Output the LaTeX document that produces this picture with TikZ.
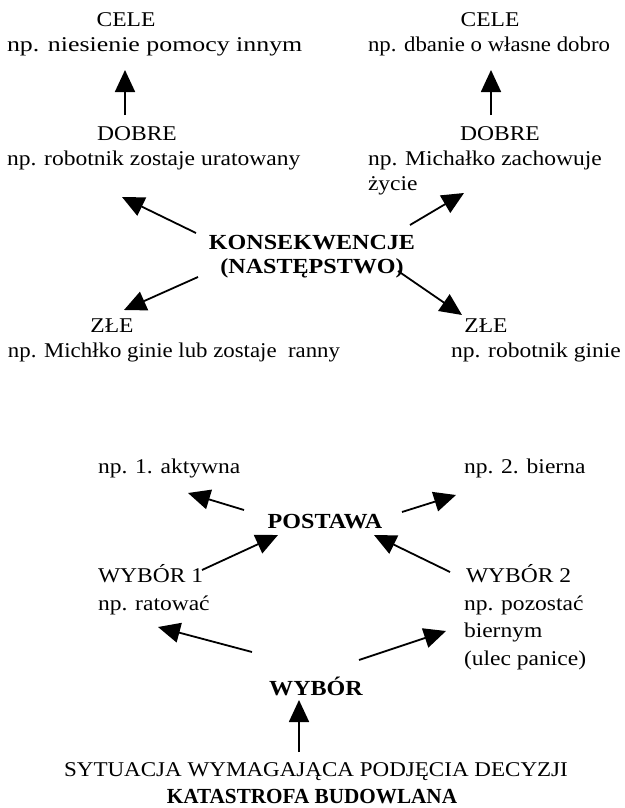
\documentclass[tikz,border=0pt]{standalone}
\usepackage{graphicx}
\usepackage{fontspec}
\setmainfont{Liberation Serif}[FakeStretch=1.12]
\usetikzlibrary{arrows.meta}
\tikzset{
  txt/.style={inner sep=0pt, outer sep=0pt, font=\fontsize{21}{25}\selectfont},
  btxt/.style={txt, font=\fontsize{21.5}{25}\selectfont\bfseries},
  arr/.style={line width=1.8pt, -{Triangle[length=22pt,width=20pt]}}
}
\begin{document}
\begin{tikzpicture}[x=1pt,y=-1pt]
\fill[white] (0,0) rectangle (624,808);
\useasboundingbox (0,0) rectangle (624,808);
% top left
\node[txt, anchor=base] (c1) at (126,27) {CELE};
\node[txt, anchor=base west] (c1t) at (7,52) {\scalebox{1.1}[1]{np. niesienie pomocy innym}};
\node[txt, anchor=base] (d1) at (137,140) {DOBRE};
\node[txt, anchor=base west] (d1t) at (7,165) {np. robotnik zostaje uratowany};
% top right
\node[txt, anchor=base] (c2) at (490,27) {CELE};
\node[txt, anchor=base west] (c2t) at (368,52) {\scalebox{0.97}[1]{np. dbanie o własne dobro}};
\node[txt, anchor=base] (d2) at (500,140) {DOBRE};
\node[txt, anchor=base west] (d2t) at (368,165) {np. Michałko zachowuje};
\node[txt, anchor=base west] (d2t2) at (368,190) {życie};
% consequences
\node[btxt, anchor=base] (kons) at (312,249) {KONSEKWENCJE};
\node[btxt, anchor=base] (nast) at (312,273) {(NASTĘPSTWO)};
\node[txt, anchor=base] (zl1) at (112,332) {ZŁE};
\node[txt, anchor=base west] (zl1t) at (8,357) {\scalebox{0.97}[1]{np. Michłko ginie lub zostaje\ \ ranny}};
\node[txt, anchor=base] (zl2) at (486,332) {ZŁE};
\node[txt, anchor=base west] (zl2t) at (451,357) {np. robotnik ginie};
% attitude
\node[txt, anchor=base west] (akt) at (98,473) {np. 1. aktywna};
\node[txt, anchor=base west] (bier) at (464,473) {np. 2. bierna};
\node[btxt, anchor=base] (post) at (325,528) {POSTAWA};
\node[txt, anchor=base west] (w1) at (98,582) {WYBÓR 1};
\node[txt, anchor=base west] (w1t) at (98,610) {np. ratować};
\node[txt, anchor=base west] (w2) at (466,582) {WYBÓR 2};
\node[txt, anchor=base west] (w2t) at (464,610) {np. pozostać};
\node[txt, anchor=base west] (w2t2) at (464,637) {biernym};
\node[txt, anchor=base west] (w2t3) at (464,665) {(ulec panice)};
\node[btxt, anchor=base] (wyb) at (316,695) {WYBÓR};
\node[txt, anchor=base] (syt) at (316,776) {\scalebox{0.98}[1]{SYTUACJA WYMAGAJĄCA PODJĘCIA DECYZJI}};
\node[btxt, anchor=base] (kat) at (312,803) {\scalebox{0.88}[1]{KATASTROFA BUDOWLANA}};
% arrow end points
\coordinate (a1s) at (125,115); \coordinate (a1e) at (125,70);
\coordinate (a2s) at (491,115); \coordinate (a2e) at (491,70);
\coordinate (a3s) at (196,233); \coordinate (a3e) at (122,197);
\coordinate (a4s) at (410,225); \coordinate (a4e) at (464,193);
\coordinate (a5s) at (198,277); \coordinate (a5e) at (124,310);
\coordinate (a6s) at (398,271); \coordinate (a6e) at (462,315);
\coordinate (b1s) at (244,510); \coordinate (b1e) at (188,493);
\coordinate (b2s) at (402,512); \coordinate (b2e) at (456,495);
\coordinate (b3s) at (202,570); \coordinate (b3e) at (278,535);
\coordinate (b4s) at (450,572); \coordinate (b4e) at (374,535);
\coordinate (b5s) at (252,652); \coordinate (b5e) at (158,627);
\coordinate (b6s) at (359,660); \coordinate (b6e) at (446,631);
\coordinate (b7s) at (299,752); \coordinate (b7e) at (299,700);
\foreach \a in {a1,a2,a3,a4,a5,a6,b1,b2,b3,b4,b5,b6,b7}
  \draw[arr] (\a s) -- (\a e);
\end{tikzpicture}
\end{document}
